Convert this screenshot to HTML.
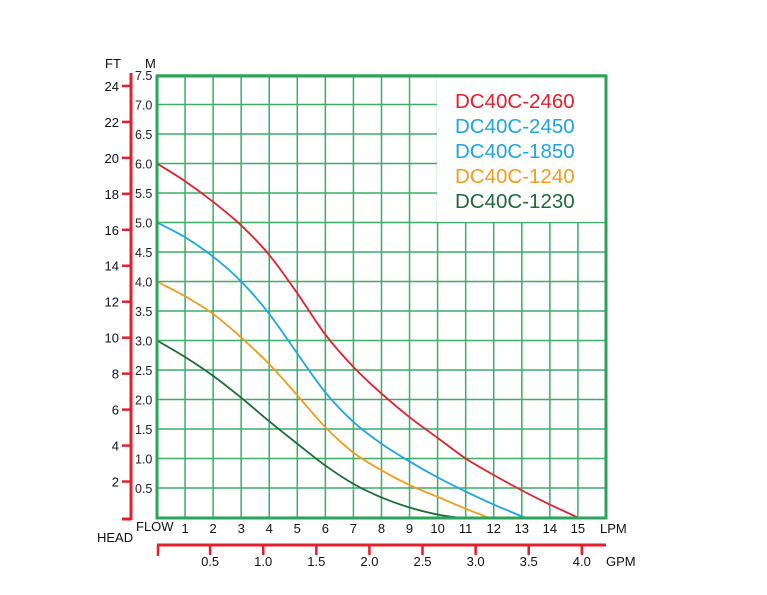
<!DOCTYPE html>
<html><head><meta charset="utf-8"><style>
html,body{margin:0;padding:0;background:#fff;}
svg{display:block;font-family:"Liberation Sans",sans-serif;}
</style></head><body>
<svg id="chart" width="767" height="595" viewBox="0 0 767 595">
<g id="grid"></g>
<rect x="437" y="77" width="169" height="145" fill="#fff"/>
<g id="curves"></g>
<rect x="157" y="76" width="449" height="442" fill="none" stroke="#2aa45a" stroke-width="3"/>
<g id="axes"></g>
<g id="legend" font-size="20.5"></g>
</svg>
<script>
const flowTicks=[1,2,3,4,5,6,7,8,9,10,11,12,13,14,15];
const headTicksM=[0.5,1.0,1.5,2.0,2.5,3.0,3.5,4.0,4.5,5.0,5.5,6.0,6.5,7.0,7.5];
const headTicksFt=[2,4,6,8,10,12,14,16,18,20,22,24];
const gpmTicks=[0.5,1.0,1.5,2.0,2.5,3.0,3.5,4.0];
const seriesNames=["DC40C-2460","DC40C-2450","DC40C-1850","DC40C-1240","DC40C-1230"];
const seriesColors=["#e3202b","#1ea6df","#1ea6df","#f29b1d","#1d6a3a"];
const redFlow=[0,1,2,3,4,5,6,7,8,9,10,11,12,13,14,15];
const redHead=[6.0,5.7,5.35,4.95,4.45,3.8,3.1,2.55,2.1,1.7,1.35,1.0,0.72,0.46,0.22,0];
const blueFlow=[0,1,2,3,4,5,6,7,8,9,10,11,12,13.1];
const blueHead=[5.0,4.75,4.42,4.0,3.45,2.78,2.12,1.62,1.25,0.95,0.68,0.44,0.22,0];
const orangeFlow=[0,1,2,3,4,5,6,7,8,9,10,11,11.8];
const orangeHead=[4.0,3.75,3.45,3.05,2.6,2.07,1.53,1.1,0.8,0.55,0.35,0.15,0];
const greenFlow=[0,1,2,3,4,5,6,7,8,9,10,10.7];
const greenHead=[3.0,2.72,2.4,2.03,1.63,1.25,0.88,0.57,0.34,0.17,0.05,0];
const X0=157,XS=28.06,Y0=517.5,YS=59.0;
const xs=v=>X0+v*XS, ys=m=>Y0-m*YS, ft=f=>Y0-f/3.281*YS, gx=g=>X0+g*3.785*XS;
const NS="http://www.w3.org/2000/svg";
function mk(tag,attrs,parent,text){const e=document.createElementNS(NS,tag);for(const k in attrs)e.setAttribute(k,attrs[k]);if(text!==undefined)e.textContent=text;parent.appendChild(e);return e;}
const grid=document.getElementById('grid'),axes=document.getElementById('axes'),curves=document.getElementById('curves'),legend=document.getElementById('legend');
flowTicks.forEach(v=>{const l=mk('line',{x1:xs(v),x2:xs(v),y1:76,y2:518,stroke:'#3aae66','stroke-width':1.5},grid);


const t=mk('text',{x:xs(v),y:533,'text-anchor':'middle','font-size':13,fill:'#111'},axes,String(v));

});
headTicksM.forEach(v=>{const l=mk('line',{x1:157,x2:606,y1:ys(v),y2:ys(v),stroke:'#3aae66','stroke-width':1.5},grid);


const t=mk('text',{x:135,y:ys(v)+5,'font-size':12.5,fill:'#222'},axes,v.toFixed(1));

});
const la=mk('line',{x1:131,x2:131,y1:73,y2:520,stroke:'#e3202b','stroke-width':3},axes);


const lb=mk('line',{x1:122,x2:131,y1:519,y2:519,stroke:'#e3202b','stroke-width':3},axes);


headTicksFt.forEach(f=>{const l=mk('line',{x1:122,x2:131,y1:ft(f),y2:ft(f),stroke:'#e3202b','stroke-width':2.5},axes);


const t=mk('text',{x:119,y:ft(f)+5,'text-anchor':'end','font-size':13,fill:'#111'},axes,String(f));

});
const gl=mk('line',{x1:157,x2:606,y1:545,y2:545,stroke:'#e3202b','stroke-width':3},axes);


const g0=mk('line',{x1:158,x2:158,y1:545,y2:556,stroke:'#e3202b','stroke-width':2.5},axes);


gpmTicks.forEach(g=>{const l=mk('line',{x1:gx(g),x2:gx(g),y1:545,y2:555,stroke:'#e3202b','stroke-width':2.5},axes);


const t=mk('text',{x:gx(g),y:566,'text-anchor':'middle','font-size':13,fill:'#111'},axes,g.toFixed(1));

});
[["FT",105,68,'ft-unit-label'],["M",145,68,'m-unit-label'],["FLOW",136,531,'flow-label'],["HEAD",97,542,'head-label'],["LPM",600,533,'lpm-label'],["GPM",606,566,'gpm-label']].forEach(a=>{const t=mk('text',{x:a[1],y:a[2],'font-size':13,fill:'#111'},axes,a[0]);

});
const sets=[[redFlow,redHead],[blueFlow,blueHead],[orangeFlow,orangeHead],[greenFlow,greenHead]];
const setColors=[seriesColors[0],seriesColors[1],seriesColors[3],seriesColors[4]];
function smooth(px,py){let d=`M${px[0]},${py[0]}`;for(let i=0;i<px.length-1;i++){const x0=px[i-1]??px[i],y0=py[i-1]??py[i],x1=px[i],y1=py[i],x2=px[i+1],y2=py[i+1],x3=px[i+2]??x2,y3=py[i+2]??y2;
d+=` C${x1+(x2-x0)/6},${y1+(y2-y0)/6} ${x2-(x3-x1)/6},${y2-(y3-y1)/6} ${x2},${y2}`;}return d;}
sets.forEach((s,i)=>{const p=mk('path',{d:smooth(s[0].map(xs),s[1].map(ys)),fill:'none',stroke:setColors[i],'stroke-width':1.8},curves);

});
seriesNames.forEach((n,i)=>{const t=mk('text',{x:455,y:108+i*25,fill:seriesColors[i]},legend,n);

});
</script>
</body></html>
